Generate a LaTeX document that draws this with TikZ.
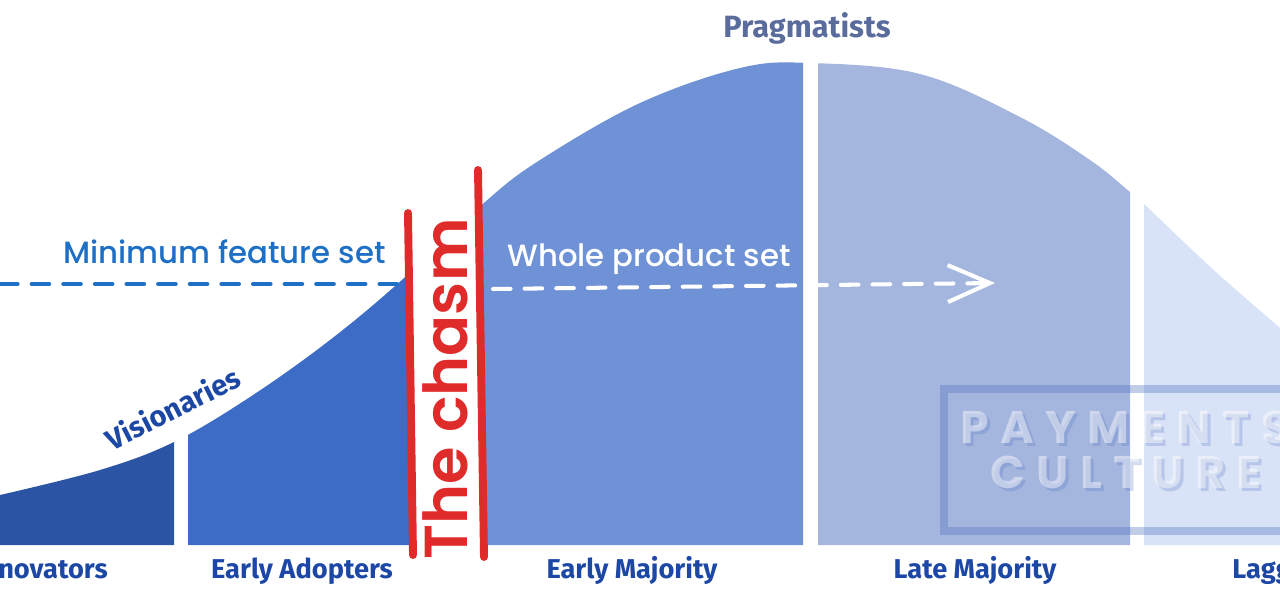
\documentclass[tikz,border=0pt]{standalone}
\usepackage{fontspec}
\setmainfont{Fira Sans}
\newfontfamily\handfont{Poppins}[UprightFont=* Medium, BoldFont=* SemiBold]
\newfontfamily\markfont{Poppins}
\usetikzlibrary{arrows.meta}
\definecolor{innovc}{HTML}{2C54A4}
\definecolor{adoptc}{HTML}{3D6CC6}
\definecolor{earlyc}{HTML}{6F92D6}
\definecolor{latec}{HTML}{A5B6DE}
\definecolor{laggc}{HTML}{D9E3F7}
\definecolor{lblblue}{HTML}{1C47A5}
\definecolor{pragc}{HTML}{5A6C9C}
\definecolor{featblue}{HTML}{1E6FC6}
\definecolor{chasmred}{HTML}{E02B2B}
\definecolor{markblue}{HTML}{4F6FC0}
\tikzstyle{grouplbl}=[font=\bfseries\fontsize{15.5}{18}\selectfont, text=lblblue, anchor=base, inner sep=0pt]

\begin{document}
\begin{tikzpicture}[x=0.02cm, y=-0.02cm]

\tikzstyle{handlbl}=[font=\handfont\fontsize{17.5}{20}\selectfont, anchor=base west, inner sep=0pt]
\tikzstyle{chasmline}=[draw=chasmred, line width=4.5pt, line cap=round]
\tikzstyle{dashline}=[line width=2.3pt, line cap=round, dash pattern=on 10pt off 8pt]
\tikzstyle{marktxt}=[font=\markfont\bfseries\fontsize{26}{28}\selectfont\addfontfeatures{LetterSpace=25}, anchor=base west, inner sep=0pt]

\useasboundingbox (0,0) rectangle (1280,602);
\clip (0,0) rectangle (1280,602);

% bell curve, one slice per group
\foreach \xa/\xb/\col in {0/174/innovc, 188/412/adoptc, 482/803/earlyc, 818/1130/latec, 1144/1280/laggc}{
  \begin{scope}
    \clip (\xa,0) rectangle (\xb,545);
    \fill[\col] plot[smooth, tension=0.6] coordinates {(0,495) (100,470) (174,442) (250,397) (330,340) (403,279) (485,202) (540,160) (640,103) (740,68) (810,63) (920,74) (1020,117) (1090,160) (1130,192) (1144,204) (1217,273) (1300,345)} -- (1300,545) -- (0,545) -- cycle;
  \end{scope}
}

% watermark
\draw[draw=markblue, opacity=0.35, line width=4.5pt] (944,389) rectangle (1310,531);
\node[marktxt, text=markblue, opacity=0.25] (paymsh) at (963,446) {PAYMENTS};
\node[marktxt, text=white, opacity=0.45] (paym) at (960,443) {PAYMENTS};
\node[marktxt, text=markblue, opacity=0.25] (cultsh) at (993,491) {CULTURE};
\node[marktxt, text=white, opacity=0.45] (cult) at (990,488) {CULTURE};

% group names
\node[grouplbl, anchor=base east] (innov) at (108,578) {Innovators};
\node[grouplbl] (eadopt) at (302,578) {Early Adopters};
\node[grouplbl] (emaj) at (632,578) {Early Majority};
\node[grouplbl] (lmaj) at (975,578) {Late Majority};
\node[grouplbl, anchor=base west] (lagg) at (1232,578) {Laggards};
\node[grouplbl, text=pragc, font=\bfseries\fontsize{17.5}{20}\selectfont] (prag) at (807,37) {Pragmatists};
\node[grouplbl, rotate=27, font=\bfseries\fontsize{16.5}{19}\selectfont] (vision) at (178,418) {Visionaries};

% feature sets
\node[handlbl, text=featblue] (minfeat) at (63,263) {Minimum feature set};
\node[handlbl, text=white] (wholeprod) at (507,266) {Whole product set};
\coordinate (mfsa) at (0,284);
\coordinate (mfsb) at (404,284);
\draw[dashline, draw=featblue] (mfsa) -- (mfsb);
\coordinate (wpsa) at (493,289);
\coordinate (wpsb) at (995,283);
\draw[dashline, draw=white, -{Straight Barb[length=24pt, width=21pt]}] (wpsa) -- (wpsb);

% the chasm
\coordinate (lefttop) at (408,213);
\coordinate (leftbot) at (413,555);
\coordinate (righttop) at (478,170);
\coordinate (rightbot) at (484,557);
\draw[chasmline] (lefttop) -- (leftbot);
\draw[chasmline] (righttop) -- (rightbot);
\node[rotate=90, anchor=base, inner sep=0pt, text=chasmred, font=\handfont\bfseries\fontsize{34.5}{37}\selectfont] (chasm) at (467,389) {The chasm};

\end{tikzpicture}
\end{document}
